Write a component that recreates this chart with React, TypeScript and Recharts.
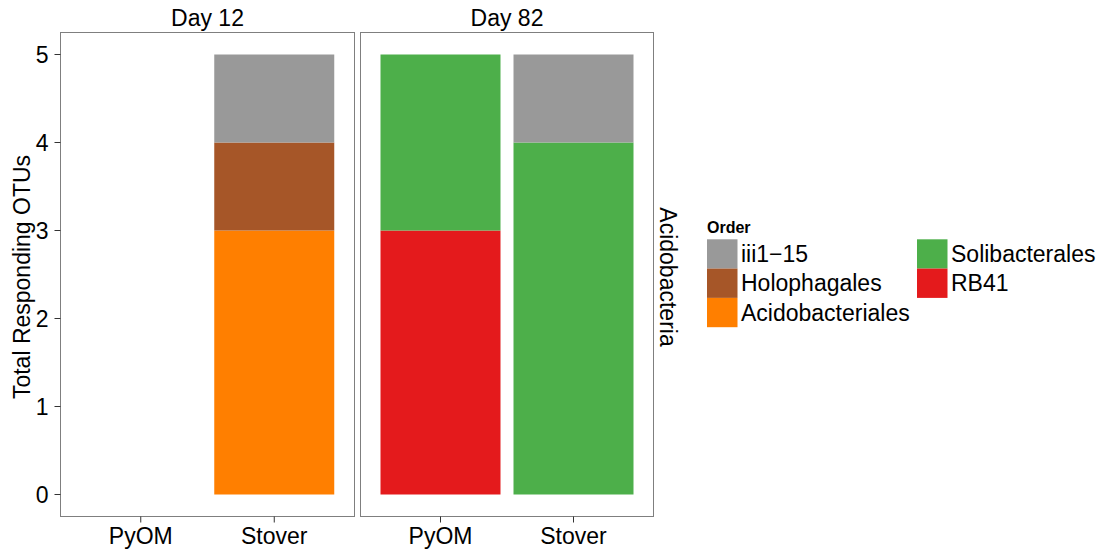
import React from "react";
import { BarChart, Bar, XAxis, YAxis } from "recharts";

const samples = ["PyOM", "Stover"];
const days = ["Day 12", "Day 82"];
const facetLabel = "Acidobacteria";
const yTitle = "Total Responding OTUs";
const legendTitle = "Order";
const yTicks = [0, 1, 2, 3, 4, 5];

// legend order (column-wise, 3 rows x 2 columns)
const orderNames = ["iii1−15", "Holophagales", "Acidobacteriales", "Solibacterales", "RB41"];
const orderColors = ["#999999", "#A65628", "#FF7F00", "#4DAF4A", "#E41A1C"];

// values: [Day 12 PyOM, Day 12 Stover, Day 82 PyOM, Day 82 Stover]
const acidobacteriales = [0, 3, 0, 0];
const holophagales = [0, 1, 0, 0];
const rb41 = [0, 0, 3, 0];
const solibacterales = [0, 0, 2, 4];
const iii115 = [0, 1, 0, 1];

// stack order bottom -> top
const stackOrder = ["Acidobacteriales", "Holophagales", "RB41", "Solibacterales", "iii1−15"];

const panelData = days.map((d, di) =>
  samples.map((s, si) => {
    const k = di * 2 + si;
    return {
      sample: s,
      Acidobacteriales: acidobacteriales[k],
      Holophagales: holophagales[k],
      RB41: rb41[k],
      Solibacterales: solibacterales[k],
      "iii1−15": iii115[k],
    };
  })
);

const FONT = "'Liberation Sans', Arial, Helvetica, sans-serif";
const FS = 23;
const Y_DOMAIN: [number, number] = [-0.25, 5.25];

function Panel({ data, left, marginLeft, marginRight, showY, gap }: any) {
  return (
    <div style={{ position: "absolute", left, top: 0 }}>
      <BarChart
        width={360}
        height={554}
        data={data}
        margin={{ top: 32.5, right: marginRight, bottom: 7.5, left: marginLeft }}
        barCategoryGap={gap}
      >
        <XAxis
          dataKey="sample"
          type="category"
          height={30}
          padding={{ left: 13.5, right: 13.5 }}
          axisLine={false}
          tickLine={{ stroke: "#333333", strokeWidth: 1 }}
          tickSize={6}
          tickMargin={5}
          tick={{ fill: "#000", fontSize: FS, fontFamily: FONT }}
          interval={0}
        />
        {showY ? (
          <YAxis
            type="number"
            domain={Y_DOMAIN}
            ticks={yTicks}
            width={50}
            axisLine={false}
            tickLine={{ stroke: "#333333", strokeWidth: 1 }}
            tickSize={6}
            tickMargin={6}
            tick={{ fill: "#000", fontSize: FS, fontFamily: FONT }}
            allowDataOverflow
          />
        ) : (
          <YAxis type="number" domain={Y_DOMAIN} hide allowDataOverflow />
        )}
        {stackOrder.map((name) => (
          <Bar
            key={name}
            dataKey={name}
            stackId="a"
            fill={orderColors[orderNames.indexOf(name)]}
            isAnimationActive={false}
          />
        ))}
      </BarChart>
    </div>
  );
}

export default function App() {
  const keyX = [707, 917];
  const keyY0 = 239.3;
  const keyH = 29.3;
  const keyW = 30.5;
  return (
    <div
      style={{
        position: "absolute",
        left: 0,
        top: 0,
        width: 1104,
        height: 554,
        background: "#fff",
        fontFamily: FONT,
      }}
    >
      {/* panel borders */}
      <div
        style={{
          position: "absolute",
          left: 60,
          top: 32,
          width: 295,
          height: 485,
          boxSizing: "border-box",
          border: "1px solid #7F7F7F",
        }}
      />
      <div
        style={{
          position: "absolute",
          left: 360,
          top: 32,
          width: 294,
          height: 485,
          boxSizing: "border-box",
          border: "1px solid #7F7F7F",
        }}
      />
      <Panel data={panelData[0]} left={0} marginLeft={10.5} marginRight={5.5} showY gap={6.75} />
      <Panel data={panelData[1]} left={300} marginLeft={60.5} marginRight={6.5} showY={false} gap={6.5} />
      <svg
        width={1104}
        height={554}
        style={{ position: "absolute", left: 0, top: 0, pointerEvents: "none" }}
        fontFamily={FONT}
      >
        <text x={207.5} y={26} fontSize={FS} textAnchor="middle" fill="#000">
          {days[0]}
        </text>
        <text x={507} y={26} fontSize={FS} textAnchor="middle" fill="#000">
          {days[1]}
        </text>
        <text
          x={0}
          y={0}
          fontSize={FS}
          textAnchor="middle"
          fill="#000"
          transform="translate(29.5,277) rotate(-90)"
        >
          {yTitle}
        </text>
        <text
          x={0}
          y={0}
          fontSize={FS}
          textAnchor="middle"
          fill="#000"
          transform="translate(660,277) rotate(90)"
        >
          {facetLabel}
        </text>
        <text x={707} y={233} fontSize={16} fontWeight="bold" fill="#000">
          {legendTitle}
        </text>
        {orderNames.map((name, i) => {
          const col = Math.floor(i / 3);
          const row = i % 3;
          const y = keyY0 + row * keyH;
          return (
            <g key={name}>
              <rect x={keyX[col]} y={y} width={keyW} height={keyH} fill={orderColors[i]} />
              <text x={keyX[col] + 34} y={y + keyH / 2 + 8} fontSize={FS} fill="#000">
                {name}
              </text>
            </g>
          );
        })}
      </svg>
    </div>
  );
}
